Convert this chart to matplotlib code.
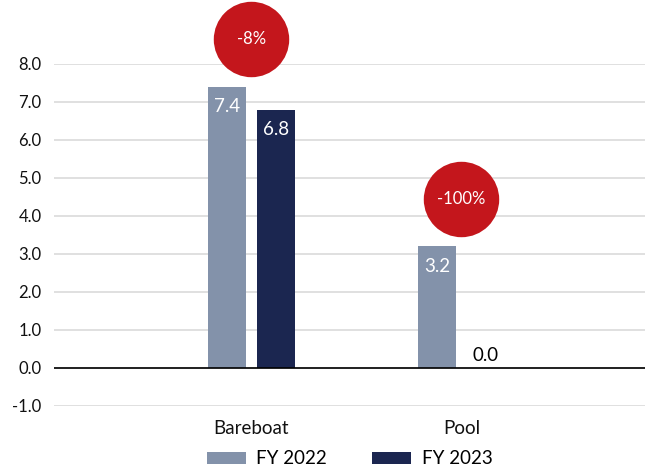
import numpy as np
import matplotlib
matplotlib.use("Agg")
import matplotlib.pyplot as plt

plt.rcParams['font.family'] = ['Lato', 'DejaVu Sans']

categories = ["Bareboat", "Pool"]
fy2022 = [7.4, 3.2]
fy2023 = [6.8, 0.0]
changes = ["-8%", "-100%"]
series_names = ["FY 2022", "FY 2023"]

col_2022 = "#8392AA"
col_2023 = "#1B2650"
col_red = "#C4161C"

fig = plt.figure(figsize=(6.45, 4.66), dpi=100)
ax = fig.add_axes([54/645, 1 - 406/466, 1 - 54/645, (406 - 64)/466])

x = np.arange(len(categories))
w = 0.181
off = 0.117
b1 = ax.bar(x - off, fy2022, w, color=col_2022, label=series_names[0], zorder=3)
b2 = ax.bar(x + off, fy2023, w, color=col_2023, label=series_names[1], zorder=3)

# value labels
for bars in (b1, b2):
    for r in bars:
        v = r.get_height()
        cx = r.get_x() + r.get_width() / 2
        if v > 0.5:
            ax.text(cx, v - 0.3, f"{v:.1f}", ha="center", va="top",
                    color="white", fontsize=13.5, zorder=4)
        else:
            ax.text(cx, v + 0.1, f"{v:.1f}", ha="center", va="bottom",
                    color="black", fontsize=13.5, zorder=4)

# change bubbles
for i, lab in enumerate(changes):
    top = max(fy2022[i], fy2023[i])
    ax.scatter([x[i]], [top + 1.25], s=2950, color=col_red, zorder=5, clip_on=False,
               linewidths=0)
    ax.text(x[i], top + 1.25, lab, ha="center", va="center", color="white",
            fontsize=12, zorder=6, clip_on=False)

ax.set_xlim(-0.94, 1.874)
ax.set_ylim(-1, 8)
ax.set_yticks(np.arange(-1, 9, 1))
ax.set_yticklabels([f"{t:.1f}" for t in np.arange(-1, 9, 1)])
ax.set_xticks(x)
ax.set_xticklabels(categories)
ax.tick_params(axis="both", length=0, colors="#111111")
ax.tick_params(axis="y", pad=9, labelsize=12)
ax.tick_params(axis="x", pad=10, labelsize=13.5)

ax.yaxis.grid(True, color="#DADADA", linewidth=1.2, zorder=0)
ax.set_axisbelow(True)
ax.axhline(0, color="black", linewidth=1.2, zorder=3.5)
for s in ax.spines.values():
    s.set_visible(False)

ax.legend(loc="center", bbox_to_anchor=(0.5, -(459 - 406) / 342), ncol=2, frameon=False,
          fontsize=13.5, handlelength=2.1, handleheight=0.67, handletextpad=0.55,
          columnspacing=2.4, borderpad=0.2)

fig.savefig("out.png", dpi=100)
